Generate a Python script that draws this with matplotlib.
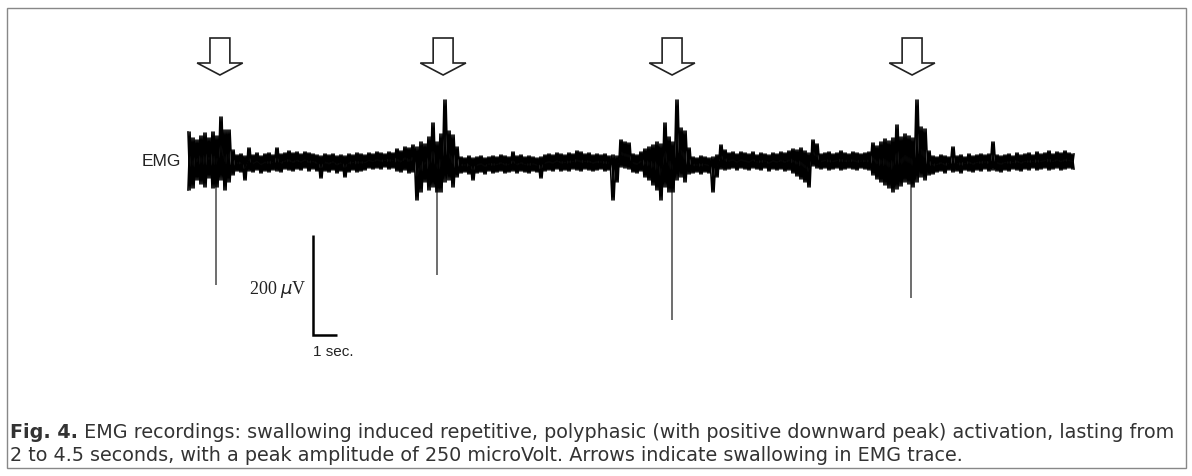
import numpy as np
import matplotlib
matplotlib.use('Agg')
import matplotlib.pyplot as plt
from matplotlib.patches import FancyArrow, Rectangle

# EMG trace: upper / lower envelope in microvolt,
# one sample every 1/6 second
SAMPLE_RATE = 6
trace_hi = [
    60, 48, 44, 52, 58, 48, 60, 52, 90, 64, 64, 24,
    14, 16, 12, 28, 14, 18, 12, 16, 18, 14, 28, 16,
    18, 22, 18, 20, 16, 20, 18, 16, 14, 12, 16, 14,
    16, 12, 14, 12, 16, 14, 18, 16, 14,
    18, 16, 20, 18, 16, 20, 18, 26, 22, 30, 28, 34,
    30, 40, 36, 50, 78, 40, 56, 124, 62, 54, 30,
    10, 8, 12, 8, 10, 12, 8, 10, 12, 10, 14, 12,
    10, 20, 12, 14, 10, 12, 10, 8, 10, 14,
    16, 14, 18, 16, 14, 18, 16, 22, 20, 16, 18, 14, 16, 14, 16, 12,
    14, 12, 44, 40, 38, 16, 14, 20, 26, 30, 34, 40, 36, 78, 50, 40,
    124, 68, 62, 28,
    10, 8, 12, 10, 8, 10, 14, 34, 24,
    18, 20, 16, 20, 18, 16, 20, 14, 18, 16, 14, 18, 16, 20, 18, 22,
    26, 24, 28, 22, 18, 44, 36,
    16, 18, 20, 16, 18, 22, 18, 16, 20, 18, 16, 18, 20,
    38, 32, 40, 46, 42, 48, 74, 50, 56, 52, 48, 124, 70, 66, 22,
    12, 10, 14, 12, 10, 30, 12, 14, 10, 16, 12, 14, 16, 14, 16, 40,
    14, 12, 14, 16, 12, 18, 14, 16, 18, 14, 20, 16, 18, 22, 16, 20,
    18, 22, 18, 16,
]
trace_lo = [
    -56, -52, -36, -44, -50, -32, -52, -50, -36, -56, -40, -26,
    -18, -20, -36, -18, -20, -16, -22, -18, -20, -16, -18, -20,
    -14, -16, -18, -14, -16, -12, -18, -14, -18, -32, -18, -20,
    -16, -22, -18, -30, -20, -16, -20, -18, -16,
    -12, -14, -12, -14, -10, -14, -12, -18, -20, -16, -22, -20,
    -76, -60, -40, -56, -50, -60, -60, -40, -36, -50, -30,
    -22, -20, -24, -36, -22, -20, -24, -18, -22, -20, -18, -22,
    -20, -18, -22, -18, -20, -22, -18, -20, -32, -18,
    -16, -18, -14, -18, -16, -18, -14, -16, -18, -14, -16, -18, -16, -14, -18, -16,
    -76, -40, -10, -12, -14, -20, -22, -18, -30, -36, -46, -56, -76, -50, -60, -60,
    -36, -30, -40, -24,
    -22, -20, -24, -20, -22, -60, -30, -14, -16,
    -14, -12, -16, -12, -14, -16, -12, -14, -16, -12, -18, -14, -16, -14, -18, -16,
    -22, -28, -34, -40, -50, -8, -12,
    -14, -12, -16, -14, -12, -16, -14, -12, -14, -16, -12, -14, -16,
    -26, -34, -40, -46, -52, -60, -54, -48, -40, -44, -50, -40, -30, -36, -26,
    -24, -20, -18, -22, -16, -20, -18, -22, -16, -18, -20, -16, -18, -14, -18, -16,
    -18, -20, -16, -18, -14, -16, -18, -14, -16, -12, -16, -14, -12, -16, -14, -12,
    -16, -14, -12, -14,
]

# positive (downward) peaks of each swallow, seconds / microvolt
spike_t = [1.17, 10.38, 20.17, 30.13]
spike_depth = [-246, -226, -316, -272]

# swallowing events marked with arrows (seconds)
swallow_t = [1.33, 10.63, 20.17, 30.17]

caption_bold = "Fig. 4."
caption_line1 = (" EMG recordings: swallowing induced repetitive, polyphasic (with positive downward peak) "
                 "activation, lasting from")
caption_line2 = ("2 to 4.5 seconds, with a peak amplitude of 250 microVolt. "
                 "Arrows indicate swallowing in EMG trace.")

W, H = 1192, 476
fig = plt.figure(figsize=(W / 100, H / 100), dpi=100)
fig.patch.set_facecolor('white')

# one axes over the whole figure: 24 px per second, 2 microvolt per px
ax = fig.add_axes([0, 0, 1, 1])
ax.set_xlim(-188 / 24, (W - 188) / 24)
ax.set_ylim(2 * (162 - H), 2 * 162)
ax.axis('off')

# trace: two crossing zig-zags between upper and lower envelope
n = len(trace_hi)
t = np.arange(n) / SAMPLE_RATE
half = 0.5 / SAMPLE_RATE
xs = np.empty(2 * n)
xs[0::2] = t
xs[1::2] = t + half
ya = np.empty(2 * n)
ya[0::2] = trace_hi
ya[1::2] = trace_lo
yb = np.empty(2 * n)
yb[0::2] = trace_lo
yb[1::2] = trace_hi
ax.vlines(spike_t, -30, spike_depth, color='#555555', lw=1.2, zorder=2)
ax.plot(xs, ya, color='black', lw=1.2, zorder=3)
ax.plot(xs, yb, color='black', lw=1.2, zorder=3)

ax.text(-0.3, 0, 'EMG', ha='right', va='center', fontsize=12.5,
        family='Liberation Sans', color='#222222')

# swallow arrows
for st in swallow_t:
    ax.add_patch(FancyArrow(st, 248, 0, -74, width=0.83, head_width=1.9, head_length=24,
                            length_includes_head=True, fc='white', ec='#222222', lw=1.2))

# scale bar: 200 microvolt, 1 second
ax.plot([5.21, 5.21, 6.21], [-146, -346, -346], color='black', lw=1.8,
        solid_joinstyle='miter', solid_capstyle='butt')
ax.text(4.95, -256, r'200 $\mu$V', ha='right', va='center', fontsize=13,
        family='Liberation Serif', color='#222222')
ax.text(5.2, -380, '1 sec.', ha='left', va='center', fontsize=11,
        family='Liberation Sans', color='#222222')

# frame
fig.patches.append(Rectangle((7 / W, 1 - 468 / H), 1179 / W, 460 / H, transform=fig.transFigure,
                             fill=False, ec='#888888', lw=1.0))

# caption
fs = 13.8
tb = fig.text(10 / W, 1 - 438 / H, caption_bold, fontsize=fs, fontweight='bold',
              family='DejaVu Sans', color='#333333', va='baseline')
ax.annotate(caption_line1, xy=(1, 0), xycoords=tb, va='bottom', ha='left',
            fontsize=fs, family='DejaVu Sans', color='#333333', annotation_clip=False)
fig.text(10 / W, 1 - 461 / H, caption_line2, fontsize=fs,
         family='DejaVu Sans', color='#333333', va='baseline')

fig.savefig('out.png', dpi=100, facecolor='white')
